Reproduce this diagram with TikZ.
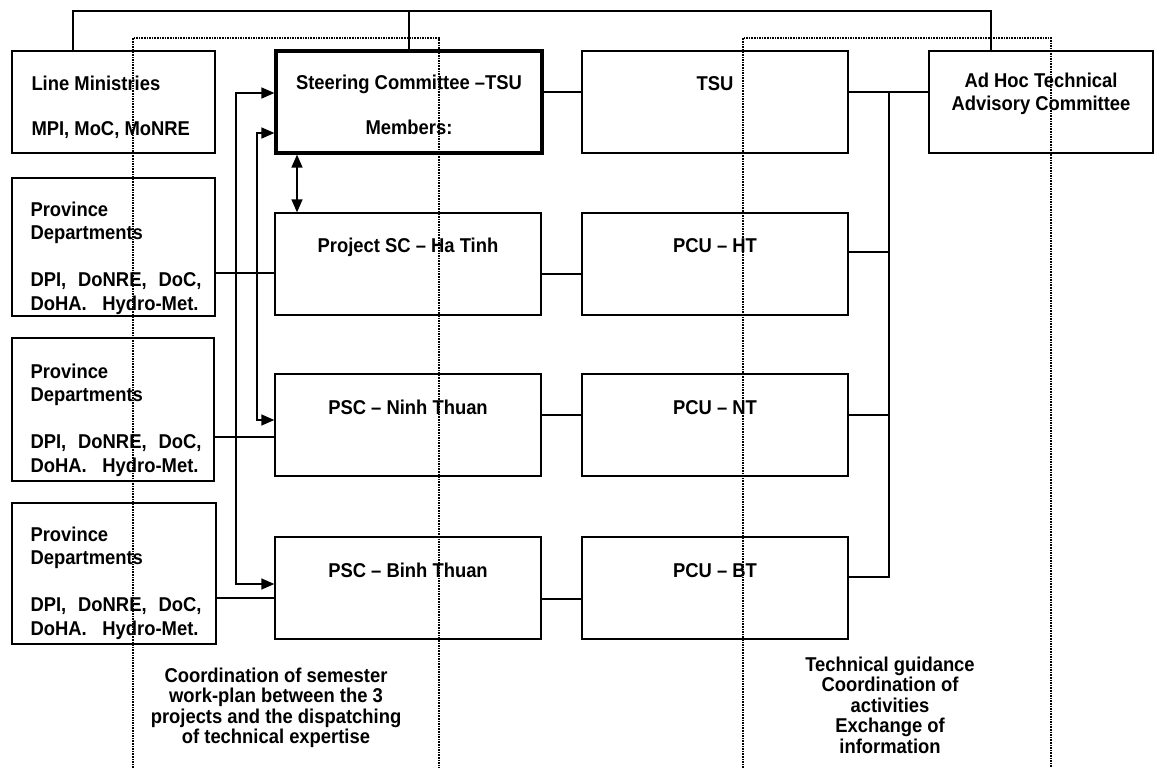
\documentclass[tikz,border=0pt]{standalone}
\usepackage{fontspec}
\setmainfont{Liberation Sans}[FakeStretch=0.92]
\usetikzlibrary{arrows.meta}
\newcommand\firstl{\rule{0pt}{16pt}}
\begin{document}
\begin{tikzpicture}[x=1pt,y=-1pt,
  box/.style={draw=black, line width=1.4pt, rectangle, inner sep=0pt, minimum height=102pt, minimum width=266pt},
  sbox/.style={box, line width=3.2pt},
  conn/.style={draw=black, line width=1.5pt},
  tip/.tip={Triangle[length=13pt,width=11pt]},
  dots/.style={draw=black, line width=1.7pt, dash pattern=on 1.6pt off 1.0pt},
  txt/.style={inner sep=0pt, font=\bfseries\fontsize{20}{23}\selectfont},
  ptxt/.style={txt, anchor=north west, align=left, font=\bfseries\fontsize{20}{23.5}\selectfont},
  btxt/.style={inner sep=0pt, anchor=north, align=center, font=\bfseries\fontsize{20}{20.5}\selectfont}]
\useasboundingbox (0,0) rectangle (1155,768);

% boxes
\node[box, minimum width=203pt] (lm) at (113.5,102) {};
\node[sbox] (sc) at (409,102) {};
\node[box] (tsu) at (715,102) {};
\node[box, minimum width=224pt] (ah) at (1041,102) {};
\node[box, minimum width=203pt, minimum height=138pt] (p1) at (113.5,247) {};
\node[box] (psc1) at (408,264) {};
\node[box] (pcu1) at (715,264) {};
\node[box, minimum width=202pt, minimum height=143pt] (p2) at (113,409.5) {};
\node[box] (psc2) at (408,425) {};
\node[box] (pcu2) at (715,425) {};
\node[box, minimum width=204pt, minimum height=141pt] (p3) at (114,573.5) {};
\node[box] (psc3) at (408,588) {};
\node[box] (pcu3) at (715,588) {};

% texts in boxes
\node[txt, anchor=north west, align=left] (lmt) at ([xshift=20pt,yshift=-24pt]lm.north west) {\firstl Line Ministries\\[22pt]MPI, MoC, MoNRE};
\node[txt, anchor=north, align=center] (sct) at ([yshift=-24pt]sc.north) {\firstl Steering Committee –TSU\\[22pt]Members:};
\node[txt, anchor=north] (tsut) at ([yshift=-24pt]tsu.north) {\firstl TSU};
\node[txt, anchor=north, align=center] (aht) at ([yshift=-20.5pt]ah.north) {\firstl Ad Hoc Technical\\Advisory Committee};
\node[ptxt] (p1t) at ([xshift=19pt,yshift=-22.5pt]p1.north west) {\firstl Province\\Departments\\[23.5pt]\hbox to 171pt{DPI,\hfill DoNRE,\hfill DoC,}\\\hbox to 168pt{DoHA.\hfill Hydro-Met.}};
\node[ptxt] (p2t) at ([xshift=19pt,yshift=-24.5pt]p2.north west) {\firstl Province\\Departments\\[23.5pt]\hbox to 171pt{DPI,\hfill DoNRE,\hfill DoC,}\\\hbox to 168pt{DoHA.\hfill Hydro-Met.}};
\node[ptxt] (p3t) at ([xshift=19pt,yshift=-22.5pt]p3.north west) {\firstl Province\\Departments\\[23.5pt]\hbox to 171pt{DPI,\hfill DoNRE,\hfill DoC,}\\\hbox to 168pt{DoHA.\hfill Hydro-Met.}};
\node[txt, anchor=north] (psc1t) at ([yshift=-24pt]psc1.north) {\firstl Project SC – Ha Tinh};
\node[txt, anchor=north] (pcu1t) at ([yshift=-24pt]pcu1.north) {\firstl PCU – HT};
\node[txt, anchor=north] (psc2t) at ([yshift=-25pt]psc2.north) {\firstl PSC – Ninh Thuan};
\node[txt, anchor=north] (pcu2t) at ([yshift=-25pt]pcu2.north) {\firstl PCU – NT};
\node[txt, anchor=north] (psc3t) at ([yshift=-25pt]psc3.north) {\firstl PSC – Binh Thuan};
\node[txt, anchor=north] (pcu3t) at ([yshift=-25pt]pcu3.north) {\firstl PCU – BT};

% bottom texts
\node[btxt] (coordt) at (276,666) {\firstl Coordination of semester\\work-plan between the 3\\projects and the dispatching\\of technical expertise};
\node[btxt] (techt) at (890,655) {\firstl Technical guidance\\Coordination of\\activities\\Exchange of\\information};

% top connector
\coordinate (tl) at (73,11);
\coordinate (tr) at (991,11);
\draw[conn] (lm.north -| tl) -- (tl) -- (tr) -- (ah.north -| tr);
\draw[conn] (sc.north |- tl) -- (sc.north);

% horizontal links
\draw[conn] ([yshift=10pt]sc.east) -- ([yshift=10pt]tsu.west);
\draw[conn] ([yshift=10pt]tsu.east) -- ([yshift=10pt]ah.west);
\coordinate (busT) at (889,92);
\draw[conn] ([yshift=11pt]pcu3.east) -| (busT);
\draw[conn] ([yshift=12pt]pcu1.east) -| (busT);
\draw[conn] ([yshift=10pt]pcu2.east) -| (busT);
\draw[conn] ([yshift=-10pt]psc1.east) -- ([yshift=-10pt]pcu1.west);
\draw[conn] ([yshift=10pt]psc2.east) -- ([yshift=10pt]pcu2.west);
\draw[conn] ([yshift=-11pt]psc3.east) -- ([yshift=-11pt]pcu3.west);
\draw[conn] ([yshift=-26pt]p1.east) -- ([yshift=-9pt]psc1.west);
\draw[conn] ([yshift=-27.5pt]p2.east) -- ([yshift=-12pt]psc2.west);
\draw[conn] ([yshift=-24.5pt]p3.east) -- ([yshift=-10pt]psc3.west);

% arrows
\coordinate (va1) at (236,93);
\coordinate (va2) at (236,584);
\coordinate (vb1) at (257,133);
\coordinate (vb2) at (257,420);
\draw[conn, tip-tip] ([yshift=9pt]sc.west) -- (va1) -- (va2) -- ([yshift=4pt]psc3.west);
\draw[conn, tip-tip] ([yshift=-31pt]sc.west) -- (vb1) -- (vb2) -- ([yshift=5pt]psc2.west);
\draw[conn, tip-tip] ([xshift=-112pt]sc.south) -- ([xshift=-111pt]psc1.north);

% dotted frames
\draw[dots] (133,768) -- (133,38) -- (439,38) -- (439,768);
\draw[dots] (743,768) -- (743,38) -- (1051,38) -- (1051,768);
\end{tikzpicture}
\end{document}
